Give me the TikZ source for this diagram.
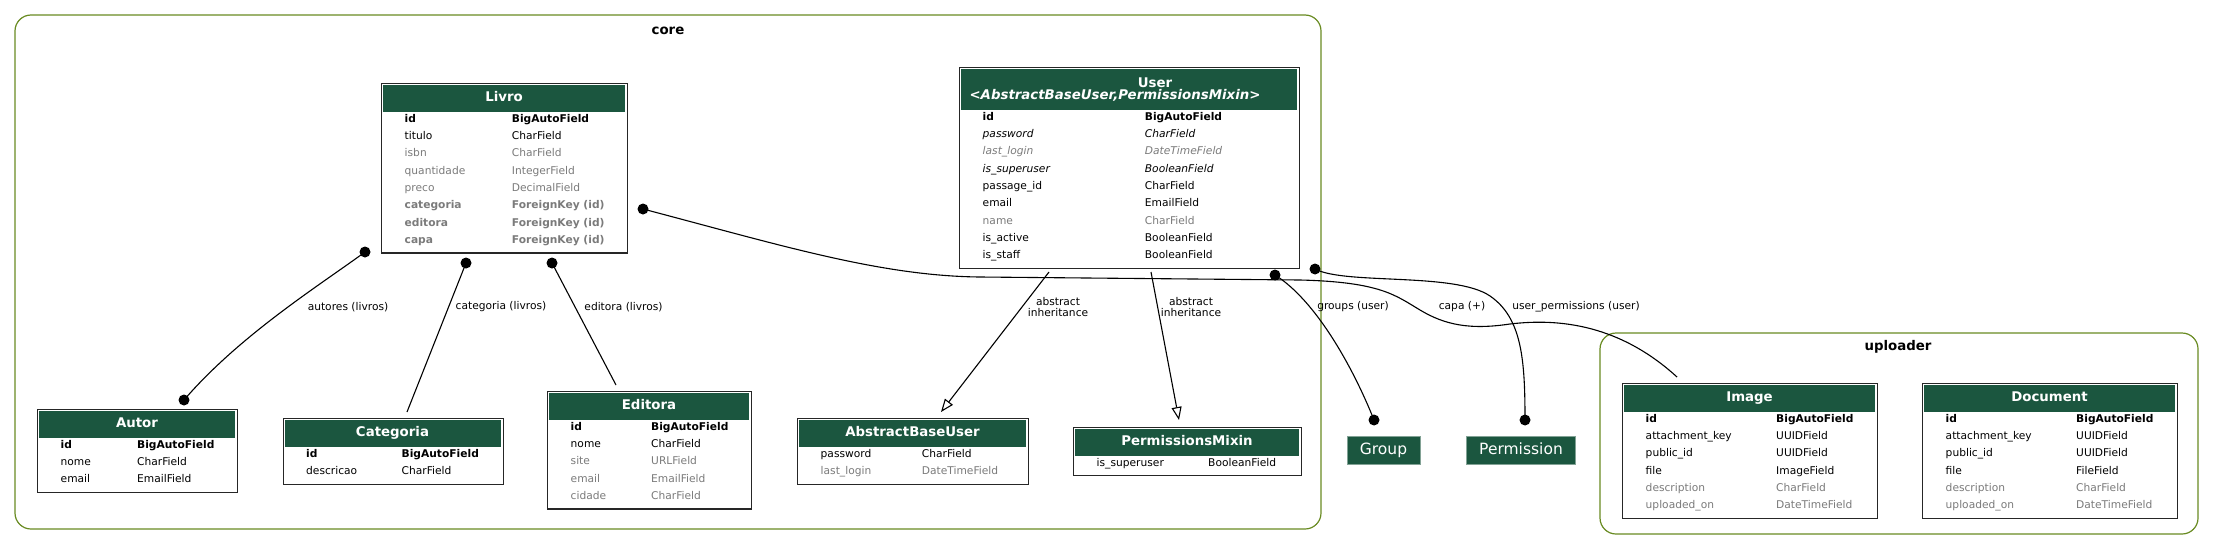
\documentclass[tikz,border=0pt]{standalone}
\usepackage{fontspec}
\setmainfont{DejaVu Sans}
\usetikzlibrary{arrows.meta,positioning,calc}

\definecolor{hdrgreen}{HTML}{1B563F}
\definecolor{clustergreen}{HTML}{698B22}
\definecolor{blankgray}{HTML}{7B7B7B}

\newcommand{\fieldfont}{\fontsize{10.67}{12}\selectfont}
\newcommand{\titlefont}{\fontsize{13.33}{15}\selectfont\bfseries}

\tikzset{
  erbox/.style={draw=black!85, line width=1.2pt, anchor=north west, inner sep=0pt, fill=white},
  hdrtitle/.style={text=white, font=\titlefont, inner sep=0pt, text height=9.7pt, text depth=0pt},
  field/.style={anchor=west, inner sep=0pt, text height=8pt, text depth=2.5pt, font=\fieldfont},
  fb/.style={font=\fieldfont\bfseries},
  fn/.style={},
  fg/.style={text=blankgray},
  fgb/.style={text=blankgray, font=\fieldfont\bfseries},
  fi/.style={font=\fieldfont\itshape},
  fgi/.style={text=blankgray, font=\fieldfont\itshape},
  cluster/.style={draw=clustergreen, line width=1.2pt, rounded corners=16pt},
  clusterlabel/.style={font=\titlefont},
  rel/.style={line width=1.1pt},
  inherit/.style={line width=1.1pt, -{Triangle[open, length=13pt, width=10pt]}},
  rellabel/.style={font=\fontsize{10.67}{11.5}\selectfont, align=center, inner sep=0pt},
  plainmodel/.style={fill=hdrgreen, draw=hdrgreen!55!white, line width=0.8pt, text=white,
    font=\fontsize{15.5}{17}\selectfont, inner sep=0pt, text height=11.3pt, text depth=3.5pt},
}

% #1 name, #2 left, #3 top, #4 width, #5 header height, #6 type column, #7 rows, #8 title, #9 fields
\newcommand{\ermodel}[9]{%
  \node[erbox, minimum width=#4pt, minimum height=#5pt+1.9pt+17.3pt*#7] (#1) at (#2,#3) {};
  \fill[hdrgreen] (#2+2,#3+2) rectangle (#2+#4-2,#3+#5);
  \node[hdrtitle] (#1-title) at (#2+#4/2,#3+#5/2-0.5) {#8};
  \foreach \fname/\ftype/\fstyle [count=\k from 0] in {#9} {
    \node[field,\fstyle] (#1-n\k) at (#2+23.5,#3+#5+7.5+17.3*\k) {\fname};
    \node[field,\fstyle] (#1-t\k) at (#2+#6,#3+#5+7.5+17.3*\k) {\ftype};
  }%
}

\begin{document}
\begin{tikzpicture}[x=1pt,y=-1pt]
    \useasboundingbox (0,0) rectangle (2215,549);

    % apps
    \draw[cluster] (15,15) rectangle (1321,529);
    \node[clusterlabel] (core-label) at (668,31) {core};
    \draw[cluster] (1600,333) rectangle (2198,534);
    \node[clusterlabel] (uploader-label) at (1898,347) {uploader};

    % core
    \ermodel{livro}{381}{83}{246}{29}{130.7}{8}{Livro}{id/BigAutoField/fb, titulo/CharField/fn,
      isbn/CharField/fg, quantidade/IntegerField/fg, preco/DecimalField/fg,
      categoria/ForeignKey (id)/fgb, editora/ForeignKey (id)/fgb, capa/ForeignKey (id)/fgb}
    \ermodel{user}{959}{67}{340}{43}{185.7}{9}{}{id/BigAutoField/fb, password/CharField/fi,
      last\_login/DateTimeField/fgi, is\_superuser/BooleanField/fi, passage\_id/CharField/fn,
      email/EmailField/fn, name/CharField/fg, is\_active/BooleanField/fn, is\_staff/BooleanField/fn}
    \node[hdrtitle] (user-name) at (1155,82.5) {User};
    \node[hdrtitle, font=\titlefont\itshape] (user-bases) at (1115,95) {<AbstractBaseUser,PermissionsMixin>};
    \ermodel{autor}{37}{409}{200}{29}{100}{3}{Autor}{id/BigAutoField/fb, nome/CharField/fn, email/EmailField/fn}
    \ermodel{categoria}{282.5}{418}{220}{29}{119}{2}{Categoria}{id/BigAutoField/fb, descricao/CharField/fn}
    \ermodel{editora}{547}{391}{204}{29}{104}{5}{Editora}{id/BigAutoField/fb, nome/CharField/fn,
      site/URLField/fg, email/EmailField/fg, cidade/CharField/fg}
    \ermodel{abstractbaseuser}{797}{418}{231}{29}{124.7}{2}{AbstractBaseUser}{password/CharField/fn,
      last\_login/DateTimeField/fg}
    \ermodel{permissionsmixin}{1073}{427}{228}{29}{135}{1}{PermissionsMixin}{is\_superuser/BooleanField/fn}

    % auth
    \node[plainmodel, minimum width=73pt, minimum height=28pt] (group) at (1383.5,450.5) {Group};
    \node[plainmodel, minimum width=109pt, minimum height=28pt] (permission) at (1521,450.5) {Permission};

    % uploader
    \ermodel{image}{1622}{383}{255}{29}{154}{6}{Image}{id/BigAutoField/fb, attachment\_key/UUIDField/fn,
      public\_id/UUIDField/fn, file/ImageField/fn, description/CharField/fg, uploaded\_on/DateTimeField/fg}
    \ermodel{document}{1922}{383}{255}{29}{154}{6}{Document}{id/BigAutoField/fb, attachment\_key/UUIDField/fn,
      public\_id/UUIDField/fn, file/FileField/fn, description/CharField/fg, uploaded\_on/DateTimeField/fg}

    % relation ends
    \coordinate (livro-autores) at (365,252);
    \coordinate (autor-livros) at (184,400);
    \coordinate (livro-categoria) at (466,263);
    \coordinate (categoria-in) at (407,412);
    \coordinate (livro-editora) at (552,263);
    \coordinate (editora-in) at (616,385);
    \coordinate (livro-capa) at (643,209);
    \coordinate (image-in) at (1677,377);
    \coordinate (user-abu) at (1049,272);
    \coordinate (abu-in) at (941,412);
    \coordinate (user-pm) at (1151,272);
    \coordinate (pm-in) at (1179,420);
    \coordinate (user-groups) at (1275,275);
    \coordinate (group-in) at (1374,420);
    \coordinate (user-perms) at (1315,269);
    \coordinate (permission-in) at (1525,420);

    % relations
    \draw[rel] (livro-autores) .. controls (320,285) and (240,335) .. (autor-livros);
    \draw[rel] (livro-categoria) -- (categoria-in);
    \draw[rel] (livro-editora) -- (editora-in);
    \draw[rel] (livro-capa) .. controls (780,245) and (880,276) .. (980,277) -- (1300,280)
      .. controls (1380,282) and (1395,295) .. (1420,310)
      .. controls (1445,325) and (1470,330) .. (1510,324)
      .. controls (1560,318) and (1620,325) .. (image-in);
    \draw[inherit] (user-abu) -- (abu-in);
    \draw[inherit] (user-pm) -- (pm-in);
    \draw[rel] (user-groups) .. controls (1315,300) and (1352,365) .. (group-in);
    \draw[rel] (user-perms) .. controls (1345,285) and (1455,272) .. (1490,296)
      .. controls (1522,318) and (1525,360) .. (permission-in);
    \foreach \e in {livro-autores,autor-livros,livro-categoria,livro-editora,livro-capa,
      user-groups,group-in,user-perms,permission-in}
      \fill (\e) circle (5.5pt);

    % relation labels
    \node[rellabel] (autores-label) at (348,307) {autores (livros)};
    \node[rellabel] (categoria-label) at (501,307) {categoria (livros)};
    \node[rellabel] (editora-label) at (623.5,307) {editora (livros)};
    \node[rellabel] (abu-label) at (1058,307) {abstract\\inheritance};
    \node[rellabel] (pm-label) at (1191,307) {abstract\\inheritance};
    \node[rellabel] (groups-label) at (1353,307) {groups (user)};
    \node[rellabel] (capa-label) at (1462,307) {capa (+)};
    \node[rellabel] (perms-label) at (1576,307) {user\_permissions (user)};
\end{tikzpicture}
\end{document}
